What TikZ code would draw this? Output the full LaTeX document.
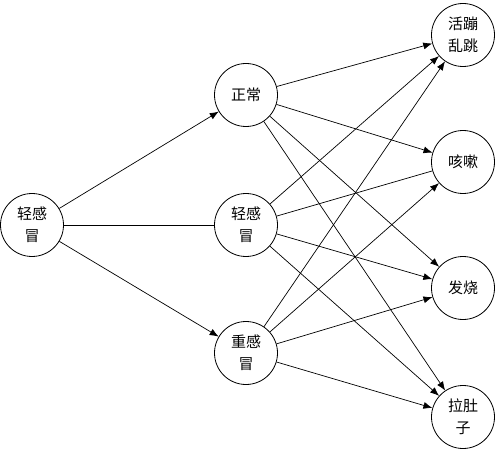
\documentclass[tikz,border=0pt]{standalone}
\usepackage{fontspec}
\newfontfamily\cjk{Noto Sans CJK SC}
\usetikzlibrary{arrows.meta}
\begin{document}
\begin{tikzpicture}[x=1pt,y=-1pt,
  st/.style={circle,draw,line width=0.8pt,minimum size=63pt,inner sep=0pt,align=center,font=\cjk\fontsize{15}{22}\selectfont},
  arr/.style={line width=0.7pt,-{Latex[length=9pt,width=7pt]}},
  ln/.style={line width=0.7pt}]
\useasboundingbox (0,0) rectangle (495,449);
\node[st] (a) at (32,225) {轻感\\冒};
\node[st] (n) at (246,95) {正常};
\node[st] (m) at (246,225) {轻感\\冒};
\node[st] (s) at (246,353) {重感\\冒};
\node[st] (h) at (463,35) {活蹦\\乱跳};
\node[st] (k) at (463,162) {咳嗽};
\node[st] (f) at (463,288) {发烧};
\node[st] (l) at (463,417) {拉肚\\子};
\draw[arr] (a) -- (n);
\draw[ln] (a) -- (m);
\draw[arr] (a) -- (s);
\draw[arr] (n) -- (h);
\draw[arr] (n) -- (k);
\draw[arr] (n) -- (f);
\draw[arr] (n) -- (l);
\draw[arr] (m) -- (h);
\draw[ln] (m) -- (k);
\draw[arr] (m) -- (f);
\draw[arr] (m) -- (l);
\draw[arr] (s) -- (h);
\draw[arr] (s) -- (k);
\draw[arr] (s) -- (f);
\draw[arr] (s) -- (l);
\end{tikzpicture}
\end{document}
